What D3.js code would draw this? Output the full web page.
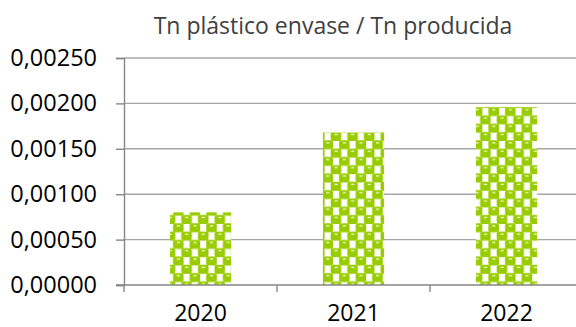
<!DOCTYPE html>
<html>
<head>
<meta charset="utf-8">
<script src="https://cdn.jsdelivr.net/npm/d3@7"></script>
<style>
  body { margin: 0; background: #fff; }
  svg { display: block; font-family: "Open Sans", sans-serif; }
</style>
</head>
<body>
<div id="chart"></div>
<script>
// data
const years = ["2020", "2021", "2022"];
const values = [0.00080, 0.00168, 0.00196];
const yTicks = [0, 0.0005, 0.001, 0.0015, 0.002, 0.0025];
const title = "Tn plástico envase / Tn producida";

const W = 576, H = 327;
const margin = { top: 58, left: 124, bottom: 42 };
const plotH = H - margin.top - margin.bottom;
const catW = 153;

const svg = d3.select("#chart").append("svg")
  .attr("width", W)
  .attr("height", H);

// checker pattern with rounded green blobs
const T = 16.6, h = T / 2;
const defs = svg.append("defs");
const pat = defs.append("pattern")
  .attr("id", "dots")
  .attr("patternUnits", "userSpaceOnUse")
  .attr("width", T)
  .attr("height", T);
pat.append("rect").attr("width", T).attr("height", T).attr("fill", "#fff");
[[0, 0], [h, h], [-h, h], [T, 0], [0, T], [T, T], [h, -h], [h, T + h]].forEach(([cx, cy]) => {
  pat.append("rect")
    .attr("x", cx - 0.8).attr("y", cy - 0.8)
    .attr("width", 10.6).attr("height", 9.2)
    .attr("rx", 2.6).attr("ry", 2.6)
    .attr("fill", "#99cc00");
  pat.append("rect")
    .attr("x", cx + 3).attr("y", cy + 1.2)
    .attr("width", 3.2).attr("height", 1.3)
    .attr("fill", "#f0f9d6");
});

const g = svg.append("g")
  .attr("transform", `translate(${margin.left},${margin.top})`);

const x = d3.scaleBand()
  .domain(years)
  .range([0, catW * years.length])
  .padding(0);

const y = d3.scaleLinear()
  .domain([0, 0.0025])
  .range([plotH, 0]);

const fmt = v => d3.format(".5f")(v).replace(".", ",");

// gridlines
g.selectAll(".grid")
  .data(yTicks.filter(d => d > 0))
  .enter().append("line")
  .attr("x1", 0)
  .attr("x2", catW * years.length)
  .attr("y1", d => y(d))
  .attr("y2", d => y(d))
  .attr("stroke", "#a6a6a6")
  .attr("stroke-width", 1.4);

// y axis
const yAxis = g.append("g")
  .call(d3.axisLeft(y).tickValues(yTicks).tickFormat(fmt).tickSizeOuter(0).tickSize(8).tickPadding(19));
yAxis.select(".domain").attr("stroke", "#868686").attr("stroke-width", 1.4);
yAxis.selectAll(".tick line").attr("stroke", "#868686").attr("stroke-width", 1.4);
yAxis.selectAll("text")
  .attr("font-size", "23.5px")
  .attr("fill", "#000")
  .attr("font-family", "Open Sans, sans-serif");

// bars
const barW = x.bandwidth() * 0.4;
g.selectAll(".bar")
  .data(values)
  .enter().append("rect")
  .attr("class", "bar")
  .attr("x", (d, i) => x(years[i]) + (x.bandwidth() - barW) / 2)
  .attr("width", barW)
  .attr("y", d => y(d))
  .attr("height", d => plotH - y(d))
  .attr("fill", "url(#dots)");

// x axis
const xAxis = g.append("g")
  .attr("transform", `translate(0,${plotH})`)
  .call(d3.axisBottom(x).tickSize(0).tickPadding(20));
xAxis.select(".domain").remove();
g.append("line")
  .attr("x1", -8).attr("x2", catW * years.length)
  .attr("y1", plotH).attr("y2", plotH)
  .attr("stroke", "#868686").attr("stroke-width", 1.4);
g.selectAll(".xtick")
  .data(d3.range(years.length + 1))
  .enter().append("line")
  .attr("x1", i => i * x.step())
  .attr("x2", i => i * x.step())
  .attr("y1", plotH)
  .attr("y2", plotH + 7)
  .attr("stroke", "#868686").attr("stroke-width", 1.4);
xAxis.selectAll("text")
  .attr("font-size", "23px")
  .attr("fill", "#000")
  .attr("font-family", "Open Sans, sans-serif");

// title
svg.append("text")
  .attr("x", 333)
  .attr("y", 34)
  .attr("text-anchor", "middle")
  .attr("font-size", "23px")
  .attr("fill", "#404040")
  .text(title);
</script>
</body>
</html>
